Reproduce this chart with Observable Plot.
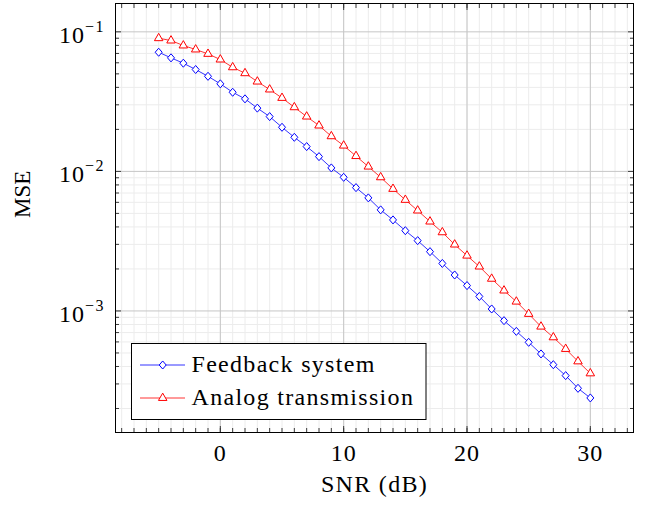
<!DOCTYPE html>
<html><head><meta charset="utf-8">
<script src="https://cdn.jsdelivr.net/npm/d3@7"></script>
<script src="https://cdn.jsdelivr.net/npm/@observablehq/plot@0.6"></script>
<style>body{margin:0;background:#fff}svg{display:block}</style>
</head><body><div id="chart"></div>
<script>
const snr = [-5,-4,-3,-2,-1,0,1,2,3,4,5,6,7,8,9,10,11,12,13,14,15,16,17,18,19,20,21,22,23,24,25,26,27,28,29,30];
const feedbackMSE = [0.0714,0.0651,0.0596,0.0537,0.0480,0.0424,0.0369,0.0331,0.0284,0.0247,0.0207,0.01755,0.01506,0.01276,0.01059,0.00907,0.00765,0.00646,0.0053,0.00449,0.00376,0.00319,0.00266,0.00219,0.00181,0.00152,0.00127,0.001033,0.000852,0.000714,0.000596,0.000492,0.000412,0.000344,0.000279,0.000238];
const analogMSE = [0.0900,0.0866,0.0798,0.0747,0.0695,0.0633,0.0557,0.0505,0.0440,0.0386,0.0336,0.0288,0.0247,0.0213,0.01785,0.0153,0.01287,0.01082,0.00907,0.00749,0.00625,0.00524,0.00437,0.00366,0.00299,0.00249,0.00208,0.0017,0.0014,0.001166,0.000952,0.000772,0.000647,0.000534,0.000435,0.000357];
const seriesNames = ["Feedback system", "Analog transmission"];
const seriesColors = ["#0000ff", "#ff0000"];
const xTicks = [0, 10, 20, 30];
const yTicks = [1e-3, 1e-2, 1e-1];
const yTickExponents = ["−3", "−2", "−1"];
const xLabel = "SNR (dB)";
const yLabel = "MSE";

const xDomain = [-8.5, 33.5];
const yDomain = [1.346e-4, 0.1596];
const xMinor = d3.range(-8, 34);
const yMinor = d3.range(-4, 0).flatMap(k => d3.range(2, 10).map(m => +(m * Math.pow(10, k)).toPrecision(3)))
  .filter(v => v > yDomain[0] && v < yDomain[1]);

const feedback = snr.map((s, i) => ({snr: s, mse: feedbackMSE[i]}));
const analog = snr.map((s, i) => ({snr: s, mse: analogMSE[i]}));

const diamondSym = {draw(ctx, size) { const r = Math.sqrt(size / Math.PI); ctx.moveTo(0, -r * 1.15); ctx.lineTo(r, 0); ctx.lineTo(0, r * 1.15); ctx.lineTo(-r, 0); ctx.closePath(); }};
const triangleSym = {draw(ctx, size) { const r = Math.sqrt(size / Math.PI); ctx.moveTo(0, -r); ctx.lineTo(r * 0.866, r / 2); ctx.lineTo(-r * 0.866, r / 2); ctx.closePath(); }};

const font = "'Liberation Serif', 'Times New Roman', serif";
const tickColor = "#3a3a3a";
const tk = (opts) => ({label: null, text: null, stroke: tickColor, ...opts});

const plot = Plot.plot({
  width: 646, height: 508,
  marginLeft: 115, marginRight: 13, marginTop: 3, marginBottom: 76,
  style: {fontFamily: font, fontSize: "24px", background: "white", color: "black"},
  x: {domain: xDomain},
  y: {type: "log", domain: yDomain},
  marks: [
    Plot.gridX({ticks: xMinor, stroke: "#ececec", strokeOpacity: 1}),
    Plot.gridY({ticks: yMinor, stroke: "#ececec", strokeOpacity: 1}),
    Plot.gridX({ticks: xTicks, stroke: "#c6c6c6", strokeOpacity: 1}),
    Plot.gridY({ticks: yTicks, stroke: "#c6c6c6", strokeOpacity: 1}),
    Plot.axisX(tk({ticks: xMinor, anchor: "bottom", tickSize: -4})),
    Plot.axisX(tk({ticks: xMinor, anchor: "top", tickSize: -4})),
    Plot.axisX(tk({ticks: xTicks, anchor: "bottom", tickSize: -6})),
    Plot.axisX(tk({ticks: xTicks, anchor: "top", tickSize: -6})),
    Plot.axisY(tk({ticks: yMinor, anchor: "left", tickSize: -4})),
    Plot.axisY(tk({ticks: yMinor, anchor: "right", tickSize: -4})),
    Plot.axisY(tk({ticks: yTicks, anchor: "left", tickSize: -6})),
    Plot.axisY(tk({ticks: yTicks, anchor: "right", tickSize: -6})),
    Plot.axisX({ticks: xTicks, anchor: "bottom", tickSize: 0, tickPadding: 11, label: null, fontSize: 24, tickFormat: d => String(d)}),
    Plot.axisY({ticks: yTicks, anchor: "left", tickSize: 0, tickPadding: 10.5, label: null, fontSize: 24, dy: 3,
      tickFormat: d => "10^" + yTickExponents[yTicks.indexOf(d)]}),
    Plot.line(feedback, {x: "snr", y: "mse", stroke: seriesColors[0], strokeWidth: 0.8}),
    Plot.line(analog, {x: "snr", y: "mse", stroke: seriesColors[1], strokeWidth: 0.8}),
    Plot.dot(feedback, {x: "snr", y: "mse", symbol: diamondSym, r: 3.5, stroke: seriesColors[0], fill: "white", strokeWidth: 1}),
    Plot.dot(analog, {x: "snr", y: "mse", symbol: triangleSym, r: 4.9, stroke: seriesColors[1], fill: "white", strokeWidth: 1}),
    Plot.frame({stroke: "black", strokeWidth: 1}),
    Plot.text([xLabel], {frameAnchor: "bottom", dy: 59, fontSize: 24, fill: "black"}),
    Plot.text([yLabel], {frameAnchor: "left", dx: -92.5, rotate: -90, fontSize: 23, fill: "black"})
  ]
});
document.getElementById("chart").appendChild(plot);

// letter-spacing to mimic the wide LaTeX typesetting
d3.select(plot).selectAll('g[aria-label="x-axis tick label"] text').attr("letter-spacing", "1px");
d3.select(plot).selectAll('g[aria-label="text"] text').filter(function(){ return this.textContent === xLabel; }).attr("letter-spacing", "1.3px");

// superscripts on y tick labels
d3.select(plot).selectAll('g[aria-label="y-axis tick label"] text').each(function() {
  const [base, exp] = this.textContent.split("^");
  const t = d3.select(this);
  t.text(null).attr("letter-spacing", "1px");
  t.append("tspan").text(base);
  t.append("tspan").attr("dy", -10.6).attr("font-size", 16).attr("letter-spacing", "1.5px").text(exp);
});

// legend
const svg = d3.select(plot);
const lg = svg.append("g").attr("font-family", font).attr("font-size", 24).attr("text-anchor", "start");
lg.append("rect").attr("x", 131.5).attr("y", 343.5).attr("width", 294.5).attr("height", 76)
  .attr("fill", "white").attr("stroke", "black").attr("stroke-width", 1);
const syms = [diamondSym, triangleSym], rs = [3.5, 4.9], rowY = [365, 398];
seriesNames.forEach((name, i) => {
  lg.append("line").attr("x1", 140).attr("x2", 185).attr("y1", rowY[i]).attr("y2", rowY[i])
    .attr("stroke", seriesColors[i]).attr("stroke-width", 0.8);
  const p = d3.path(); syms[i].draw(p, rs[i] * rs[i] * Math.PI);
  lg.append("path").attr("d", p.toString()).attr("transform", `translate(162.7,${rowY[i]})`)
    .attr("fill", "white").attr("stroke", seriesColors[i]).attr("stroke-width", 1);
  lg.append("text").attr("x", 191.5).attr("y", rowY[i] + 6.7).attr("letter-spacing", "1.3px")
    .attr("text-anchor", "start").attr("fill", "black").text(name);
});
</script>
</body></html>
